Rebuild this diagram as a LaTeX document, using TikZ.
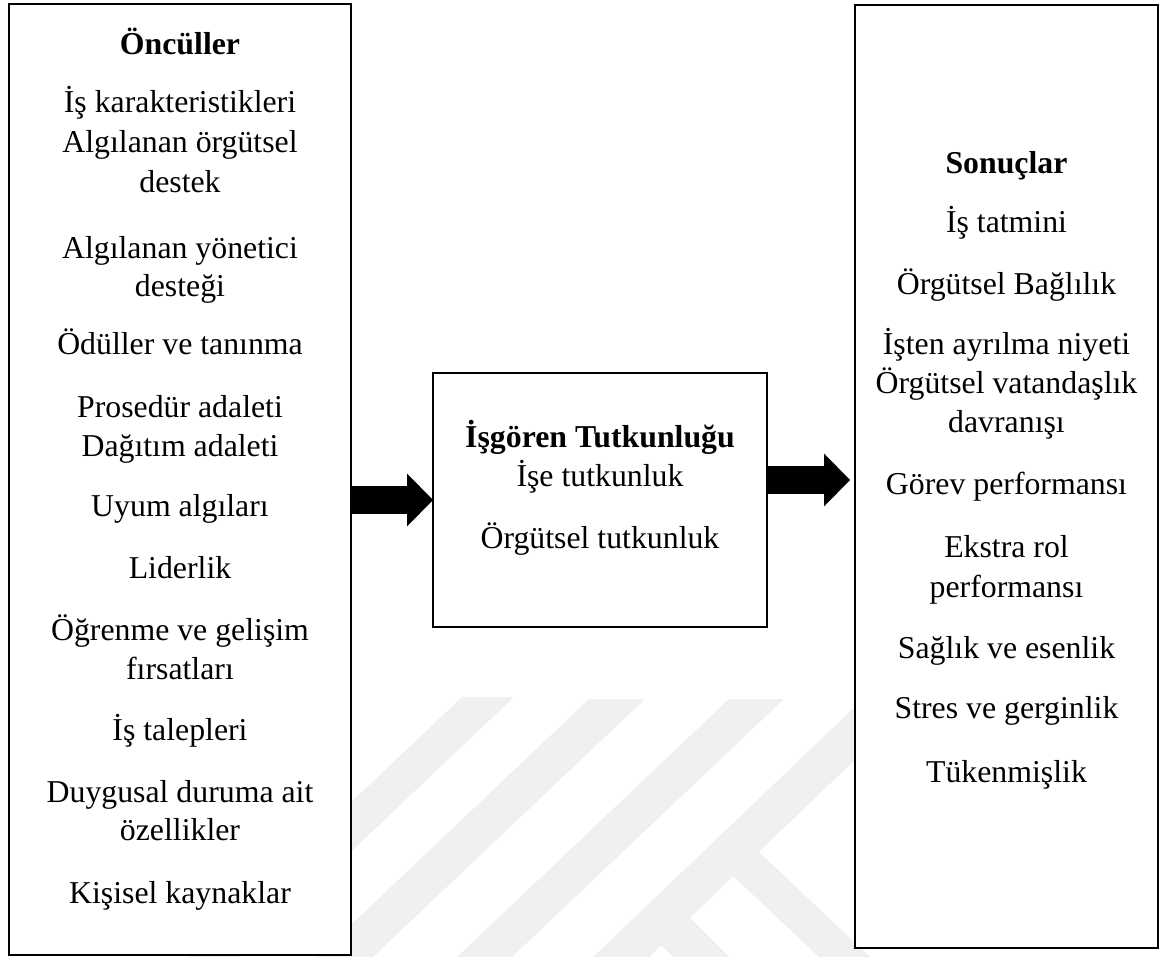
\documentclass[tikz,border=0pt]{standalone}
\usepackage{fontspec}
\setmainfont{Liberation Serif}
\usetikzlibrary{arrows.meta}

\begin{document}
\begin{tikzpicture}[x=1pt, y=-1pt,
  box/.style={draw, line width=2.6pt, fill=white, inner sep=0pt, outer sep=0pt},
  item/.style={font=\fontsize{31.8}{37}\selectfont, anchor=base, inner sep=0pt},
  head/.style={item, font=\fontsize{31.8}{37}\selectfont\bfseries},
  bigarrow/.style={line width=28pt, -{Triangle[length=26pt, width=53pt, line width=0pt]}},
  wmark/.style={fill=black!6}]

\useasboundingbox (0,0) rectangle (1160,957);

% First, the faint watermark, it stays behind the white boxes
\fill[wmark] (462,697) -- (514,697) -- (240,957) -- (188,957) -- cycle;
\fill[wmark] (589,699) -- (645,699) -- (373,957) -- (317,957) -- cycle;
\fill[wmark] (729,699) -- (784,699) -- (512,957) -- (457,957) -- cycle;
\fill[wmark] (905,659) -- (905,712) -- (649,957) -- (593,957) -- cycle;
\fill[wmark] (757,850) -- (870,957) -- (819,957) -- (732,875) -- cycle;
\fill[wmark] (687,915) -- (729,957) -- (673,957) -- (659,943) -- cycle;

% The three boxes
\node[box, minimum width=342pt, minimum height=951pt] (ant) at (180,479.5) {};
\node[box, minimum width=334pt, minimum height=254pt] (mid) at (600,500) {};
\node[box, minimum width=303pt, minimum height=943pt] (son) at (1006.5,476.5) {};

% Left box: one node per line, placed on its baseline
\node[head] (a0) at (180,55) {Öncüller};
\foreach \y/\txt [count=\i] in {113/İş karakteristikleri, 153/Algılanan örgütsel,
  193/destek, 259/Algılanan yönetici, 297/desteği, 355/Ödüller ve tanınma,
  418/Prosedür adaleti, 457/Dağıtım adaleti, 517/Uyum algıları, 578/Liderlik,
  640/Öğrenme ve gelişim, 679/fırsatları, 740/İş talepleri,
  802/Duygusal duruma ait, 840/özellikler, 903/Kişisel kaynaklar}
  { \node[item] (a\i) at (180,\y) {\txt}; }

% Middle box
\node[head] (m0) at (600,448) {İşgören Tutkunluğu};
\node[item] (m1) at (600,487) {İşe tutkunluk};
\node[item] (m2) at (600,548) {Örgütsel tutkunluk};

% Right box
\node[head] (s0) at (1006.5,174) {Sonuçlar};
\foreach \y/\txt [count=\i] in {233/İş tatmini, 295/Örgütsel Bağlılık,
  355/İşten ayrılma niyeti, 394/Örgütsel vatandaşlık, 433/davranışı,
  495/Görev performansı, 558/Ekstra rol, 597/performansı,
  658/Sağlık ve esenlik, 718/Stres ve gerginlik, 782/Tükenmişlik}
  { \node[item] (s\i) at (1006.5,\y) {\txt}; }

% Finally the two block arrows
\draw[bigarrow] (ant.east |- mid.west) -- (mid.west);
\coordinate (rt) at ([yshift=20pt]mid.east);
\draw[bigarrow, shorten >=5pt] (rt) -- (rt -| son.west);

\end{tikzpicture}
\end{document}
